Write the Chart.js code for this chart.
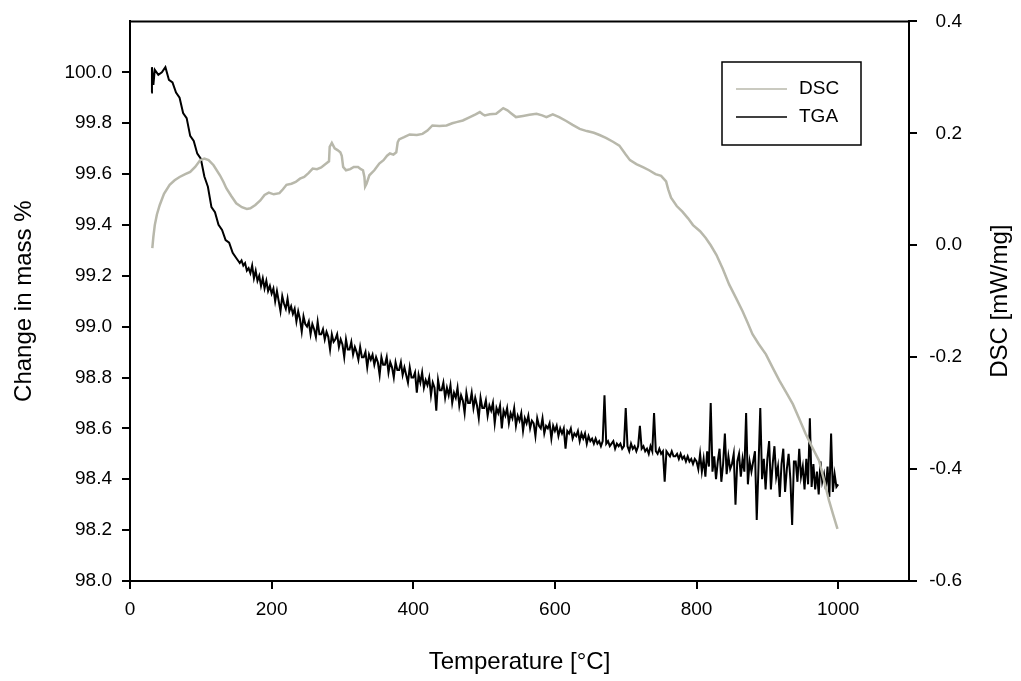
<!DOCTYPE html>
<html>
<head>
<meta charset="utf-8">
<script src="https://cdn.jsdelivr.net/npm/chart.js@4"></script>
<style>
  html, body { margin: 0; padding: 0; background: #fff; }
</style>
</head>
<body>
<canvas id="tgaChart" width="1021" height="681"></canvas>
<script>
// DSC curve (right axis, mW/mg)
const dscTemp = [31.5, 33, 35, 38, 42, 48, 56, 63, 70, 78, 85, 92, 99, 105, 111, 118, 127, 132, 136, 143,
  150, 158, 165, 170, 177, 184, 190, 196, 203, 211, 216, 221, 228, 234, 240, 246, 252, 258, 264, 270,
  277, 281, 282, 285, 287, 289, 293, 297, 299, 301, 305, 311, 316, 322, 326, 329, 331, 332, 334, 338,
  345, 352, 358, 363, 367, 372, 376, 378, 380, 387, 395, 405, 413, 420, 427, 437, 447, 455, 461, 470,
  480, 488, 494, 498, 501, 508, 517, 522, 527, 533, 538, 545, 555, 564, 574, 582, 588, 597, 606, 616,
  625, 635, 645, 655, 663, 672, 682, 691, 700, 706, 715, 725, 733, 742, 750, 757, 760, 764, 772, 780,
  788, 795, 805, 813, 820, 828, 837, 846, 856, 865, 872, 879, 888, 898, 908, 917, 927, 936, 945, 954,
  963, 973, 980, 987, 993, 999];
const dscValue = [-0.005, 0.015, 0.036, 0.055, 0.072, 0.092, 0.108, 0.116, 0.122, 0.127, 0.131, 0.140, 0.152, 0.155, 0.152, 0.143, 0.125, 0.113, 0.102, 0.088,
  0.075, 0.068, 0.065, 0.066, 0.072, 0.080, 0.090, 0.094, 0.091, 0.093, 0.100, 0.108, 0.110, 0.113, 0.119, 0.122, 0.129, 0.137, 0.136, 0.139,
  0.146, 0.150, 0.176, 0.183, 0.178, 0.173, 0.170, 0.166, 0.160, 0.140, 0.134, 0.136, 0.140, 0.140, 0.136, 0.134, 0.122, 0.105, 0.110, 0.125,
  0.134, 0.146, 0.152, 0.160, 0.164, 0.162, 0.166, 0.184, 0.189, 0.193, 0.198, 0.197, 0.199, 0.205, 0.214, 0.213, 0.214, 0.218, 0.220, 0.223,
  0.229, 0.234, 0.238, 0.234, 0.232, 0.234, 0.235, 0.240, 0.245, 0.241, 0.236, 0.229, 0.231, 0.233, 0.235, 0.232, 0.229, 0.234, 0.229, 0.222,
  0.215, 0.208, 0.204, 0.201, 0.197, 0.192, 0.185, 0.178, 0.162, 0.152, 0.145, 0.139, 0.134, 0.127, 0.124, 0.114, 0.100, 0.085, 0.070, 0.060,
  0.048, 0.036, 0.025, 0.013, 0.000, -0.017, -0.042, -0.070, -0.095, -0.118, -0.138, -0.159, -0.177, -0.195, -0.220, -0.242, -0.264, -0.284, -0.310, -0.337,
  -0.360, -0.385, -0.420, -0.456, -0.482, -0.507];

// TGA curve (left axis, mass %)
const tgaTemp = [30, 31, 33, 35, 40, 45, 50, 55, 60, 65, 70, 75, 80, 85, 90, 95, 100, 105, 110, 115,
  120, 125, 130, 135, 140, 145,
  150, 152.5, 155, 157.5, 160, 162.5, 165, 167.5, 170, 172.5, 175, 177.5, 180, 182.5, 185, 187.5, 190, 192.5, 195, 197.5,
  200, 202.5, 205, 207.5, 210, 212.5, 215, 217.5, 220, 222.5, 225, 227.5, 230, 232.5, 235, 237.5, 240, 242.5, 245, 247.5,
  250, 252.5, 255, 257.5, 260, 262.5, 265, 267.5, 270, 272.5, 275, 277.5, 280, 282.5, 285, 287.5, 290, 292.5, 295, 297.5,
  300, 302.5, 305, 307.5, 310, 312.5, 315, 317.5, 320, 322.5, 325, 327.5, 330, 332.5, 335, 337.5, 340, 342.5, 345, 347.5,
  350, 352.5, 355, 357.5, 360, 362.5, 365, 367.5, 370, 372.5, 375, 377.5, 380, 382.5, 385, 387.5, 390, 392.5, 395, 397.5,
  400, 402.5, 405, 407.5, 410, 412.5, 415, 417.5, 420, 422.5, 425, 427.5, 430, 432.5, 435, 437.5, 440, 442.5, 445, 447.5,
  450, 452.5, 455, 457.5, 460, 462.5, 465, 467.5, 470, 472.5, 475, 477.5, 480, 482.5, 485, 487.5, 490, 492.5, 495, 497.5,
  500, 502.5, 505, 507.5, 510, 512.5, 515, 517.5, 520, 522.5, 525, 527.5, 530, 532.5, 535, 537.5, 540, 542.5, 545, 547.5,
  550, 552.5, 555, 557.5, 560, 562.5, 565, 567.5, 570, 572.5, 575, 577.5, 580, 582.5, 585, 587.5, 590, 592.5, 595, 597.5,
  600, 602.5, 605, 607.5, 610, 612.5, 615, 617.5, 620, 622.5, 625, 627.5, 630, 632.5, 635, 637.5, 640, 642.5, 645, 647.5,
  650, 652.5, 655, 657.5, 660, 662.5, 665, 667.5, 670, 672.5, 675, 677.5, 680, 682.5, 685, 687.5, 690, 692.5, 695, 697.5,
  700, 702.5, 705, 707.5, 710, 712.5, 715, 717.5, 720, 722.5, 725, 727.5, 730, 732.5, 735, 737.5, 740, 742.5, 745, 747.5,
  750, 752.5, 755, 757.5, 760, 762.5, 765, 767.5, 770, 772.5, 775, 777.5, 780, 782.5, 785, 787.5, 790, 792.5, 795, 797.5,
  800, 802.5, 805, 807.5, 810, 812.5, 815, 817.5, 820, 822.5, 825, 827.5, 830, 832.5, 835, 837.5, 840, 842.5, 845, 847.5,
  850, 852.5, 855, 857.5, 860, 862.5, 865, 867.5, 870, 872.5, 875, 877.5, 880, 882.5, 885, 887.5, 890, 892.5, 895, 897.5,
  900, 902.5, 905, 907.5, 910, 912.5, 915, 917.5, 920, 922.5, 925, 927.5, 930, 932.5, 935, 937.5, 940, 942.5, 945, 947.5,
  950, 952.5, 955, 957.5, 960, 962.5, 965, 967.5, 970, 972.5, 975, 977.5, 980, 982.5, 985, 987.5, 990, 992.5, 995, 997.5,
  1000];
const tgaMass = [99.92, 100.02, 99.95, 100.01, 99.99, 100.00, 100.02, 99.97, 99.96, 99.92, 99.90, 99.84, 99.82, 99.75, 99.73, 99.68, 99.66, 99.59, 99.55, 99.47,
  99.45, 99.40, 99.38, 99.34, 99.33, 99.29,
  99.27, 99.26, 99.25, 99.26, 99.24, 99.25, 99.22, 99.23, 99.21, 99.24, 99.19, 99.22, 99.18, 99.20, 99.16, 99.19, 99.15, 99.18, 99.14, 99.16,
  99.13, 99.15, 99.10, 99.14, 99.10, 99.06, 99.12, 99.09, 99.07, 99.11, 99.06, 99.08, 99.05, 99.07, 99.02, 99.06, 99.03, 98.98, 99.04, 99.01,
  99.00, 99.02, 98.97, 99.01, 98.99, 98.96, 99.02, 98.97, 98.97, 98.99, 98.95, 98.98, 98.96, 98.91, 98.97, 98.94, 98.95, 98.97, 98.92, 98.95,
  98.93, 98.88, 98.95, 98.91, 98.91, 98.94, 98.89, 98.92, 98.90, 98.87, 98.92, 98.88, 98.88, 98.90, 98.84, 98.89, 98.87, 98.89, 98.85, 98.88,
  98.86, 98.81, 98.88, 98.85, 98.85, 98.88, 98.82, 98.86, 98.84, 98.80, 98.86, 98.83, 98.83, 98.86, 98.81, 98.84, 98.81, 98.78, 98.84, 98.80,
  98.80, 98.82, 98.74, 98.81, 98.78, 98.82, 98.76, 98.79, 98.77, 98.80, 98.73, 98.78, 98.76, 98.67, 98.79, 98.75, 98.75, 98.78, 98.72, 98.76,
  98.73, 98.77, 98.70, 98.74, 98.72, 98.76, 98.69, 98.73, 98.71, 98.66, 98.74, 98.70, 98.70, 98.74, 98.68, 98.72, 98.69, 98.64, 98.72, 98.68,
  98.68, 98.71, 98.65, 98.69, 98.67, 98.70, 98.62, 98.68, 98.66, 98.69, 98.60, 98.67, 98.65, 98.68, 98.62, 98.66, 98.64, 98.68, 98.61, 98.65,
  98.63, 98.66, 98.59, 98.64, 98.62, 98.65, 98.60, 98.63, 98.62, 98.57, 98.64, 98.61, 98.60, 98.64, 98.58, 98.61, 98.60, 98.62, 98.56, 98.61,
  98.59, 98.61, 98.57, 98.60, 98.58, 98.60, 98.52, 98.59, 98.58, 98.60, 98.56, 98.58, 98.57, 98.59, 98.55, 98.58, 98.56, 98.58, 98.54, 98.57,
  98.55, 98.56, 98.54, 98.56, 98.54, 98.55, 98.53, 98.55, 98.73, 98.54, 98.55, 98.53, 98.54, 98.55, 98.52, 98.54, 98.53, 98.54, 98.52, 98.53,
  98.68, 98.53, 98.51, 98.54, 98.52, 98.53, 98.51, 98.53, 98.61, 98.52, 98.53, 98.51, 98.52, 98.50, 98.53, 98.51, 98.66, 98.51, 98.50, 98.52,
  98.50, 98.51, 98.39, 98.51, 98.50, 98.49, 98.51, 98.49, 98.49, 98.50, 98.48, 98.50, 98.48, 98.49, 98.47, 98.49, 98.47, 98.48, 98.46, 98.48,
  98.47, 98.44, 98.50, 98.43, 98.48, 98.41, 98.51, 98.45, 98.70, 98.43, 98.49, 98.40, 98.47, 98.52, 98.39, 98.46, 98.58, 98.42, 98.49, 98.44,
  98.46, 98.50, 98.30, 98.47, 98.50, 98.41, 98.48, 98.43, 98.66, 98.38, 98.47, 98.43, 98.47, 98.51, 98.24, 98.45, 98.68, 98.40, 98.48, 98.36,
  98.48, 98.55, 98.36, 98.46, 98.53, 98.41, 98.45, 98.33, 98.46, 98.52, 98.35, 98.44, 98.50, 98.40, 98.22, 98.47, 98.47, 98.39, 98.52, 98.41,
  98.45, 98.36, 98.48, 98.38, 98.64, 98.37, 98.46, 98.36, 98.43, 98.34, 98.47, 98.39, 98.42, 98.36, 98.45, 98.33, 98.58, 98.35, 98.42, 98.37,
  98.38];

const xTickStep = 200;
const massTickStep = 0.2;
const dscTickStep = 0.2;

const font = "'Liberation Sans', Arial, sans-serif";
const dscColor = "#b8b8ab";

function pairs(xs, ys) {
  return xs.map((x, i) => ({ x: x, y: ys[i] }));
}

function fmt(v) {
  return Math.abs(v) < 1e-9 ? "0.0" : v.toFixed(1);
}

// Frame top line, boxed legend and right axis title
const decorations = {
  id: "decorations",
  afterDraw(chart) {
    const ctx = chart.ctx;
    const a = chart.chartArea;
    ctx.save();
    ctx.strokeStyle = "#000";
    ctx.lineWidth = 2;
    ctx.beginPath();
    ctx.moveTo(a.left - 1, a.top);
    ctx.lineTo(a.right + 1, a.top);
    ctx.stroke();

    // legend
    ctx.lineWidth = 1.5;
    ctx.strokeRect(722, 62, 139, 83);
    const rows = [89, 117];
    ctx.font = "19px " + font;
    ctx.textBaseline = "middle";
    chart.data.datasets.forEach((ds, i) => {
      ctx.strokeStyle = ds.borderColor;
      ctx.lineWidth = 1.5;
      ctx.beginPath();
      ctx.moveTo(736, rows[i]);
      ctx.lineTo(787, rows[i]);
      ctx.stroke();
      ctx.fillStyle = "#000";
      ctx.fillText(ds.label, 799, rows[i]);
    });

    // right axis title, reading upwards like the left one
    ctx.translate(1000, (a.top + a.bottom) / 2);
    ctx.rotate(-Math.PI / 2);
    ctx.textAlign = "center";
    ctx.font = "24px " + font;
    ctx.fillText("DSC [mW/mg]", 0, 0);
    ctx.restore();
  }
};

new Chart(document.getElementById("tgaChart"), {
  type: "line",
  data: {
    datasets: [{
      label: "DSC",
      data: pairs(dscTemp, dscValue),
      yAxisID: "y1",
      borderColor: dscColor,
      borderWidth: 2.5,
      pointRadius: 0,
      tension: 0
    }, {
      label: "TGA",
      data: pairs(tgaTemp, tgaMass),
      yAxisID: "y",
      borderColor: "#000",
      borderWidth: 2,
      pointRadius: 0,
      tension: 0
    }]
  },
  options: {
    responsive: false,
    animation: false,
    layout: { padding: { top: 19, right: 59 } },
    plugins: { legend: { display: false }, tooltip: { enabled: false } },
    scales: {
      x: {
        type: "linear",
        position: "bottom",
        min: 0,
        max: 1100,
        ticks: { stepSize: xTickStep, includeBounds: false, color: "#000", font: { family: font, size: 19 }, padding: 9, maxRotation: 0,
          callback: v => String(v) },
        grid: { drawOnChartArea: false, tickLength: 8, color: "#000", lineWidth: 2 },
        border: { color: "#000", width: 2 },
        title: { display: true, text: "Temperature [°C]", color: "#000", font: { family: font, size: 24 }, padding: { bottom: 4 } },
        afterFit(s) { s.height = 100; }
      },
      y: {
        position: "left",
        min: 98,
        max: 100.2,
        ticks: { stepSize: massTickStep, color: "#000", font: { family: font, size: 19 }, padding: 10,
          callback: v => v > 100.05 ? null : fmt(v) },
        grid: { drawOnChartArea: false, tickLength: 8, color: "#000", lineWidth: 2 },
        border: { color: "#000", width: 2 },
        title: { display: true, text: "Change in mass %", color: "#000", font: { family: font, size: 24 }, padding: { top: 10 } },
        afterFit(s) { s.width = 130; }
      },
      y1: {
        position: "right",
        min: -0.6,
        max: 0.4,
        ticks: { stepSize: dscTickStep, color: "#000", font: { family: font, size: 19 }, crossAlign: "far",
          callback: v => fmt(v) },
        grid: { drawOnChartArea: false, tickLength: 8, color: "#000", lineWidth: 2 },
        border: { color: "#000", width: 2 },
        afterFit(s) { s.width = 53; }
      }
    }
  },
  plugins: [decorations]
});
</script>
</body>
</html>
